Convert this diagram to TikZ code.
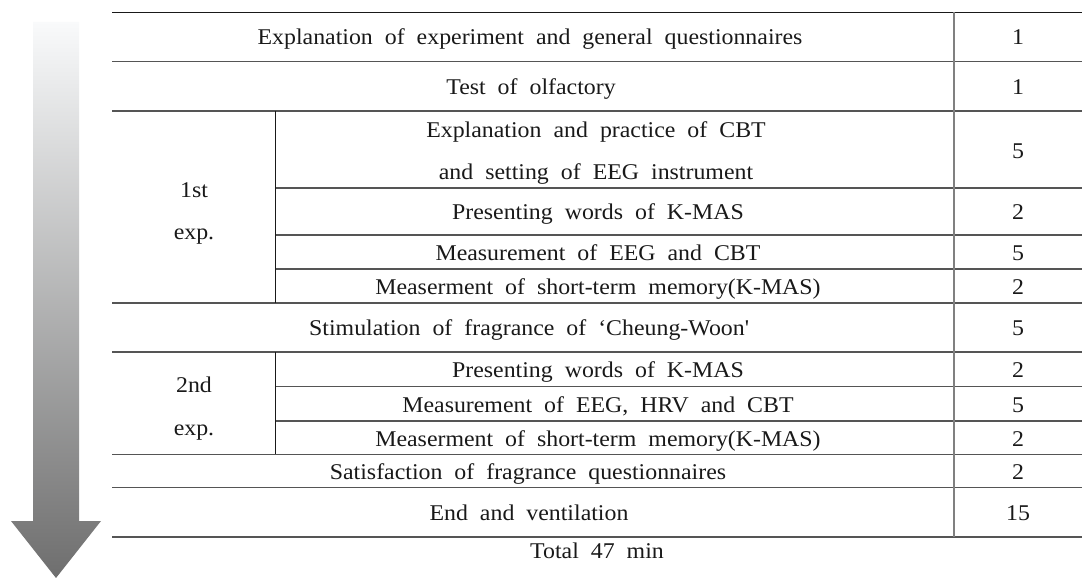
\documentclass[tikz,border=0pt]{standalone}
\usepackage{fontspec}
\setmainfont{Liberation Serif}[FakeStretch=1.06]
\definecolor{rulegray}{HTML}{555555}
\definecolor{vgray}{HTML}{808080}
\definecolor{arrtop}{HTML}{F9FAFB}
\definecolor{arrmid}{HTML}{C6C6C6}
\definecolor{arrbot}{HTML}{6E6E6E}
\newcommand{\cellfont}{\fontsize{22.5}{26}\selectfont\spaceskip 12pt\relax}
\tikzset{
  cell/.style={anchor=base, inner sep=0pt, text=black!90, font=\cellfont},
  hrule/.style={draw=rulegray, line width=1.2pt},
  toprule/.style={draw=black!90, line width=1.2pt},
  vrule/.style={draw=vgray, line width=1.5pt},
  innerrule/.style={draw=black!90, line width=1pt},
}
\begin{document}
\begin{tikzpicture}[x=1pt,y=-1pt]
\useasboundingbox (0,0) rectangle (1082,578);
% arrow
\shade[top color=arrtop, middle color=arrmid, bottom color=arrbot]
  (33,22) -- (79,22) -- (79,521) -- (101,521) -- (56,578) -- (11,521) -- (33,521) -- cycle;
% horizontal rules
\draw[toprule] (112,12.5) -- (1082,12.5);
\foreach \y in {61.7,111,303,352,454.3,487.7,537}
  \draw[hrule] (112,\y) -- (1082,\y);
\foreach \y in {188,235,269,386.7,421}
  \draw[hrule] (275.7,\y) -- (1082,\y);
% vertical rules
\draw[vrule] (954,12.5) -- (954,537);
\draw[innerrule] (275.7,111) -- (275.7,303);
\draw[innerrule] (275.7,352) -- (275.7,454.3);
% texts
\node[cell] (t1) at (530,45) {Explanation of experiment and general questionnaires};
\node[cell] (v1) at (1018,45) {1};
\node[cell] (t2) at (531,94.5) {Test of olfactory};
\node[cell] (v2) at (1018,94.5) {1};
\node[cell] (e1a) at (194,197) {1st};
\node[cell] (e1b) at (194,239) {exp.};
\node[cell] (t3a) at (596,137) {Explanation and practice of CBT};
\node[cell] (t3a2) at (596,179) {and setting of EEG instrument};
\node[cell] (v3a) at (1018,158) {5};
\node[cell] (t3b) at (598,219.5) {Presenting words of K-MAS};
\node[cell] (v3b) at (1018,219.5) {2};
\node[cell] (t3c) at (598,260) {Measurement of EEG and CBT};
\node[cell] (v3c) at (1018,260) {5};
\node[cell] (t3d) at (598,294) {Measerment of short-term memory(K-MAS)};
\node[cell] (v3d) at (1018,294) {2};
\node[cell] (t4) at (529,335.5) {Stimulation of fragrance of ‘Cheung-Woon\textquotesingle};
\node[cell] (v4) at (1018,335.5) {5};
\node[cell] (e2a) at (194,392) {2nd};
\node[cell] (e2b) at (194,435) {exp.};
\node[cell] (t5a) at (598,377) {Presenting words of K-MAS};
\node[cell] (v5a) at (1018,377) {2};
\node[cell] (t5b) at (598,412) {Measurement of EEG, HRV and CBT};
\node[cell] (v5b) at (1018,412) {5};
\node[cell] (t5c) at (598,446) {Measerment of short-term memory(K-MAS)};
\node[cell] (v5c) at (1018,446) {2};
\node[cell] (t6) at (528,479) {Satisfaction of fragrance questionnaires};
\node[cell] (v6) at (1018,479) {2};
\node[cell] (t7) at (529,520.5) {End and ventilation};
\node[cell] (v7) at (1018,520.5) {15};
\node[cell] (tot) at (597,558) {Total 47 min};
\end{tikzpicture}
\end{document}
